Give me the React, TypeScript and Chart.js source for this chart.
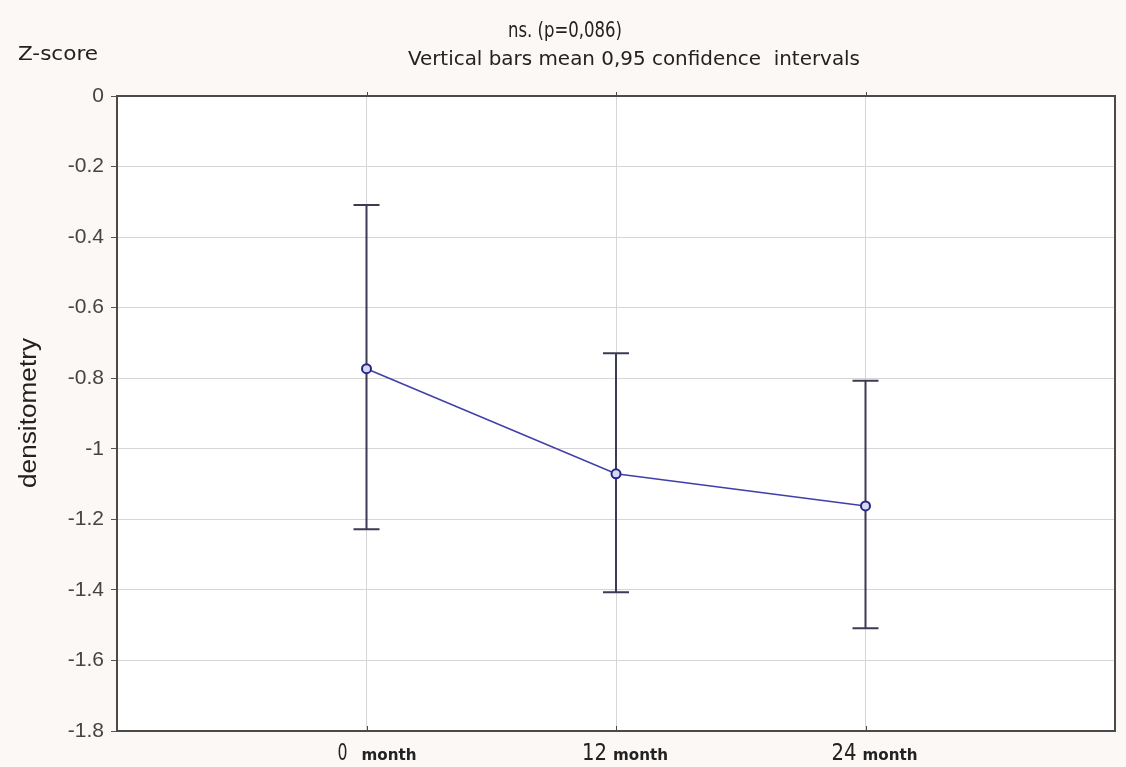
import React, { useEffect, useRef } from "react";
import { Chart, registerables } from "chart.js";

Chart.register(...registerables);

const months = [0, 12, 24];
const monthLabels = ["0", "12", "24"];
const means = [-0.773, -1.071, -1.162];
const upper = [-0.309, -0.729, -0.807];
const lower = [-1.228, -1.407, -1.509];
const yTicks = [0, -0.2, -0.4, -0.6, -0.8, -1, -1.2, -1.4, -1.6, -1.8];

const titleText = "ns. (p=0,086)";
const subtitleText = "Vertical bars mean 0,95 confidence  intervals";
const zText = "Z-score";
const yTitle = "densitometry";
const unitText = "month";

function drawFit(ctx: CanvasRenderingContext2D, text: string, font: string, x: number, y: number, w: number, align: "center" | "left", color: string) {
  ctx.save();
  ctx.font = font;
  ctx.fillStyle = color;
  ctx.textBaseline = "middle";
  ctx.textAlign = "left";
  const m = ctx.measureText(text).width;
  const s = w / m;
  const left = align === "center" ? x - w / 2 : x;
  ctx.translate(left, y);
  ctx.scale(s, 1);
  ctx.fillText(text, 0, 0);
  ctx.restore();
}

const decorPlugin = {
  id: "decor",
  beforeDraw(chart: any) {
    const { ctx, chartArea: a } = chart;
    ctx.save();
    ctx.fillStyle = "#fbf8f5";
    ctx.fillRect(0, 0, chart.width, chart.height);
    ctx.fillStyle = "#ffffff";
    ctx.fillRect(a.left, a.top, a.right - a.left, a.bottom - a.top);
    ctx.restore();
  },
  beforeDatasetsDraw(chart: any) {
    const { ctx } = chart;
    const xs = chart.scales.x;
    const ys = chart.scales.y;
    ctx.save();
    ctx.strokeStyle = "#3b3b55";
    ctx.lineWidth = 2;
    months.forEach((m, i) => {
      const px = xs.getPixelForValue(m);
      const pu = ys.getPixelForValue(upper[i]);
      const pl = ys.getPixelForValue(lower[i]);
      ctx.beginPath();
      ctx.moveTo(px, pu);
      ctx.lineTo(px, pl);
      ctx.moveTo(px - 13, pu);
      ctx.lineTo(px + 13, pu);
      ctx.moveTo(px - 13, pl);
      ctx.lineTo(px + 13, pl);
      ctx.stroke();
    });
    ctx.restore();
  },
  afterDraw(chart: any) {
    const { ctx, chartArea: a } = chart;
    const xs = chart.scales.x;
    ctx.save();
    ctx.strokeStyle = "#4a4a4a";
    ctx.lineWidth = 2;
    ctx.strokeRect(a.left, a.top, a.right - a.left, a.bottom - a.top);
    ctx.lineWidth = 1;
    months.forEach((m) => {
      const px = Math.round(xs.getPixelForValue(m)) + 0.5;
      ctx.beginPath();
      ctx.moveTo(px, a.bottom);
      ctx.lineTo(px, a.bottom - 5);
      ctx.moveTo(px, a.top);
      ctx.lineTo(px, a.top - 4);
      ctx.stroke();
    });
    ctx.restore();

    drawFit(ctx, titleText, "21px 'DejaVu Sans Condensed', 'DejaVu Sans'", 565, 32, 114, "center", "#222");
    drawFit(ctx, subtitleText, "19px 'DejaVu Sans Condensed', 'DejaVu Sans'", 634, 60, 452, "center", "#222");
    drawFit(ctx, zText, "19px 'DejaVu Sans Condensed', 'DejaVu Sans'", 18, 55, 80, "left", "#222");

    ctx.save();
    ctx.translate(30, 413);
    ctx.rotate(-Math.PI / 2);
    drawFit(ctx, yTitle, "23px 'Liberation Sans', Arial", 0, 0, 150, "center", "#222");
    ctx.restore();

    months.forEach((m, i) => {
      const px = xs.getPixelForValue(m);
      const numW = monthLabels[i].length === 1 ? 10 : 25;
      const left = px - (i === 0 ? 29 : 34);
      drawFit(ctx, monthLabels[i], "23px 'DejaVu Sans Condensed', 'DejaVu Sans'", left, 754, numW, "left", "#222");
      const ml = left + numW + (i === 0 ? 14 : 6);
      drawFit(ctx, unitText, "bold 15px 'DejaVu Sans Condensed', 'DejaVu Sans'", ml, 756, 55, "left", "#222");
    });
  },
};

export default function App() {
  const ref = useRef<HTMLCanvasElement | null>(null);
  useEffect(() => {
    if (!ref.current) return;
    const chart = new Chart(ref.current, {
      type: "line",
      data: {
        datasets: [
          {
            data: months.map((m, i) => ({ x: m, y: means[i] })),
            borderColor: "#4040a8",
            borderWidth: 1.6,
            pointRadius: 4.5,
            pointBorderWidth: 2,
            pointBorderColor: "#26268a",
            pointBackgroundColor: "#d8d8f0",
            tension: 0,
          },
        ],
      },
      options: {
        animation: false,
        responsive: false,
        layout: { padding: { top: 96, right: 11, left: 0, bottom: 0 } },
        plugins: { legend: { display: false }, tooltip: { enabled: false }, title: { display: false } },
        scales: {
          x: {
            type: "linear",
            min: -12,
            max: 36,
            afterBuildTicks: (scale: any) => {
              scale.ticks = months.map((v) => ({ value: v }));
            },
            afterFit: (scale: any) => {
              scale.height = 36;
            },
            ticks: { display: false },
            grid: { color: "#d6d6d6", lineWidth: 1, drawTicks: false },
            border: { display: false },
          },
          y: {
            type: "linear",
            min: -1.8,
            max: 0,
            afterBuildTicks: (scale: any) => {
              scale.ticks = yTicks.map((v) => ({ value: v }));
            },
            afterFit: (scale: any) => {
              scale.width = 117;
            },
            ticks: {
              padding: 7,
              color: "#444",
              font: { family: "'Liberation Sans', Arial", size: 21 },
              callback: (v: any) => String(Math.round(Number(v) * 10) / 10),
            },
            grid: { color: "#d6d6d6", lineWidth: 1, tickLength: 6, tickColor: "#555" },
            border: { display: false },
          },
        },
      },
      plugins: [decorPlugin],
    } as any);
    return () => chart.destroy();
  }, []);
  return (
    <div style={{ position: "fixed", left: 0, top: 0, width: 1126, height: 767 }}>
      <canvas ref={ref} width={1126} height={767} style={{ display: "block" }} />
    </div>
  );
}
